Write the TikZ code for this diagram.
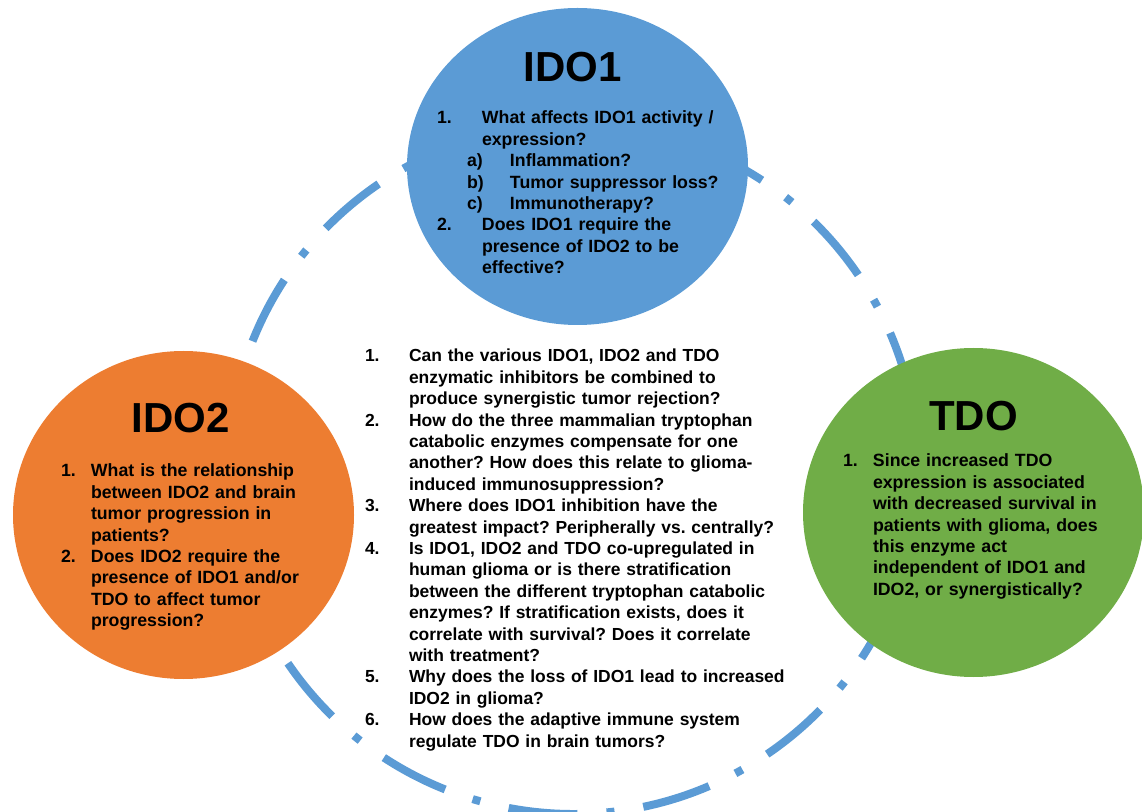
\documentclass[tikz,border=0pt]{standalone}
\usepackage{fontspec}
\setmainfont{Liberation Sans}

\definecolor{idoblue}{HTML}{5B9BD5}
\definecolor{idoorange}{HTML}{ED7D31}
\definecolor{tdogreen}{HTML}{70AD47}

% width of the number column in a question list
\newlength{\numw}
\newcommand{\qn}[1]{\makebox[\numw][l]{#1}}
\newcommand{\qc}{\hspace*{\numw}}
\newcommand{\qs}[1]{\hspace*{22.5pt}\makebox[32.25pt][l]{#1}}

\begin{document}
\begin{tikzpicture}[x=0.75pt, y=-0.75pt,
    every node/.style={inner sep=0pt, outer sep=0pt},
    title/.style={font=\fontsize{31.5}{36}\selectfont\bfseries, anchor=base},
    qlist/.style={font=\fontsize{13.3}{16.05}\selectfont\bfseries\frenchspacing,
      anchor=base west, text width=360pt, align=left,
      execute at begin node={\setlength{\numw}{#1}}}]
  \useasboundingbox (0,0) rectangle (1142,812);
  \def\R{258.75pt}

  % ring behind the three enzymes: dash, gap, dot, gap
  \draw[idoblue, line width=6pt, dash pattern=on 51.9pt off 21.85pt on 6pt off 21.85pt]
    (573,469) ++(34.3:\R) arc[start angle=34.3, end angle=394.3, radius=\R];

  % enzymes
  \fill[idoblue] (577.5,166.5) ellipse[x radius=170.5, y radius=158.5];
  \fill[idoorange] (183.5,515) ellipse[x radius=170.5, y radius=164];
  \fill[tdogreen] (973.5,512.5) ellipse[x radius=170.5, y radius=164.5];

  \node[title] (ido1) at (573,82) {IDO1};
  \node[title] (ido2) at (181,433) {IDO2};
  \node[title] (tdo) at (973.5,430.7) {TDO};

  % questions per enzyme
  \node[qlist=33.75pt] (ido1q) at (437,124) {%
    \qn{1.}What affects IDO1 activity /\\
    \qc expression?\\
    \qs{a)}Inflammation?\\
    \qs{b)}Tumor suppressor loss?\\
    \qs{c)}Immunotherapy?\\
    \qn{2.}Does IDO1 require the\\
    \qc presence of IDO2 to be\\
    \qc effective?};

  \node[qlist=22.5pt] (ido2q) at (61,477) {%
    \qn{1.}What is the relationship\\
    \qc between IDO2 and brain\\
    \qc tumor progression in\\
    \qc patients?\\
    \qn{2.}Does IDO2 require the\\
    \qc presence of IDO1 and/or\\
    \qc TDO to affect tumor\\
    \qc progression?};

  \node[qlist=22.5pt] (tdoq) at (843,467) {%
    \qn{1.}Since increased TDO\\
    \qc expression is associated\\
    \qc with decreased survival in\\
    \qc patients with glioma, does\\
    \qc this enzyme act\\
    \qc independent of IDO1 and\\
    \qc IDO2, or synergistically?};

  % shared questions in the middle
  \node[qlist=33pt, font=\fontsize{13.1}{16.05}\selectfont\bfseries\frenchspacing]
    (sharedq) at (365,362) {%
    \qn{1.}Can the various IDO1, IDO2 and TDO\\
    \qc enzymatic inhibitors be combined to\\
    \qc produce synergistic tumor rejection?\\
    \qn{2.}How do the three mammalian tryptophan\\
    \qc catabolic enzymes compensate for one\\
    \qc another? How does this relate to glioma-\\
    \qc induced immunosuppression?\\
    \qn{3.}Where does IDO1 inhibition have the\\
    \qc greatest impact? Peripherally vs. centrally?\\
    \qn{4.}Is IDO1, IDO2 and TDO co-upregulated in\\
    \qc human glioma or is there stratification\\
    \qc between the different tryptophan catabolic\\
    \qc enzymes? If stratification exists, does it\\
    \qc correlate with survival? Does it correlate\\
    \qc with treatment?\\
    \qn{5.}Why does the loss of IDO1 lead to increased\\
    \qc IDO2 in glioma?\\
    \qn{6.}How does the adaptive immune system\\
    \qc regulate TDO in brain tumors?};
\end{tikzpicture}
\end{document}
